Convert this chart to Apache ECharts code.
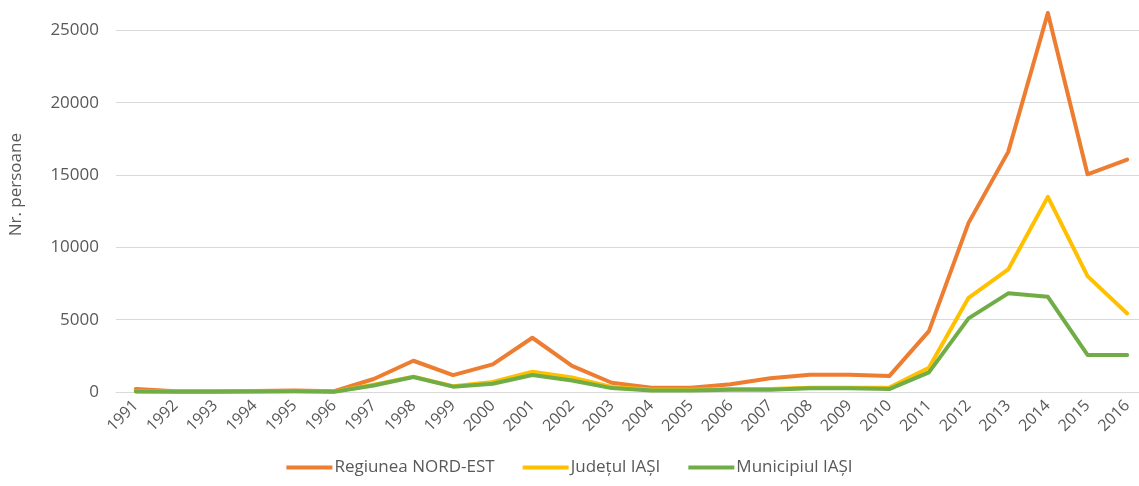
<!DOCTYPE html>
<html>
<head>
<meta charset="utf-8">
<script src="https://cdn.jsdelivr.net/npm/echarts@6/dist/echarts.min.js"></script>
<style>
html,body{margin:0;padding:0;background:#fff;}
#chart{width:1139px;height:486px;}
</style>
</head>
<body>
<div id="chart"></div>
<script>
const years = ['1991','1992','1993','1994','1995','1996','1997','1998','1999','2000','2001','2002','2003','2004','2005','2006','2007','2008','2009','2010','2011','2012','2013','2014','2015','2016'];
const regiuneaNordEst = [200,50,50,70,100,50,900,2160,1170,1910,3750,1800,640,300,300,530,950,1190,1190,1100,4210,11690,16600,26200,15050,16070];
const judetulIasi = [60,30,30,40,60,30,500,1060,400,700,1400,1000,350,150,150,200,200,300,300,300,1680,6510,8470,13490,8010,5430];
const municipiulIasi = [40,20,20,30,50,20,450,1040,370,570,1170,800,270,100,100,150,150,260,260,200,1360,5090,6820,6580,2560,2560];
const seriesNames = ['Regiunea NORD-EST','Județul IAȘI','Municipiul IAȘI'];
const yAxisName = 'Nr. persoane';

const chart = echarts.init(document.getElementById('chart'));
const FONT = 'Open Sans';
const TXT = '#595959';
function line(name, data, color) {
  return {
    name: name, type: 'line', data: data, symbol: 'none',
    lineStyle: {color: color, width: 4, cap: 'round', join: 'round'},
    itemStyle: {color: color},
    animation: false
  };
}
chart.setOption({
  animation: false,
  textStyle: {fontFamily: FONT},
  grid: {left: 116, width: 1031, top: -42, bottom: 94, containLabel: false, outerBoundsMode: 'none'},
  legend: {
    data: seriesNames,
    bottom: 5, left: 'center',
    icon: 'rect', itemWidth: 46, itemHeight: 4, itemGap: 28,
    textStyle: {color: TXT, fontSize: 17, fontFamily: FONT, padding: [0, 0, 0, -3]}
  },
  xAxis: {
    type: 'category', data: years, boundaryGap: true,
    axisLine: {lineStyle: {color: '#D9D9D9', width: 1}},
    axisTick: {show: false},
    axisLabel: {rotate: 45, color: TXT, fontSize: 16, fontFamily: FONT, margin: 11, interval: 0}
  },
  yAxis: {
    type: 'value', min: 0, max: 30000, interval: 5000,
    axisLine: {show: false}, axisTick: {show: false},
    splitLine: {lineStyle: {color: '#D9D9D9', width: 1}},
    axisLabel: {color: TXT, fontSize: 17, fontFamily: FONT, margin: 17, formatter: function (v) { return String(v); }}
  },
  graphic: [{
    type: 'text', left: 8, top: 133, rotation: Math.PI / 2,
    style: {text: yAxisName, fill: TXT, font: '17px "Open Sans"'}
  }],
  series: [
    line(seriesNames[0], regiuneaNordEst, '#ED7D31'),
    line(seriesNames[1], judetulIasi, '#FFC000'),
    line(seriesNames[2], municipiulIasi, '#70AD47')
  ]
});
</script>
</body>
</html>
